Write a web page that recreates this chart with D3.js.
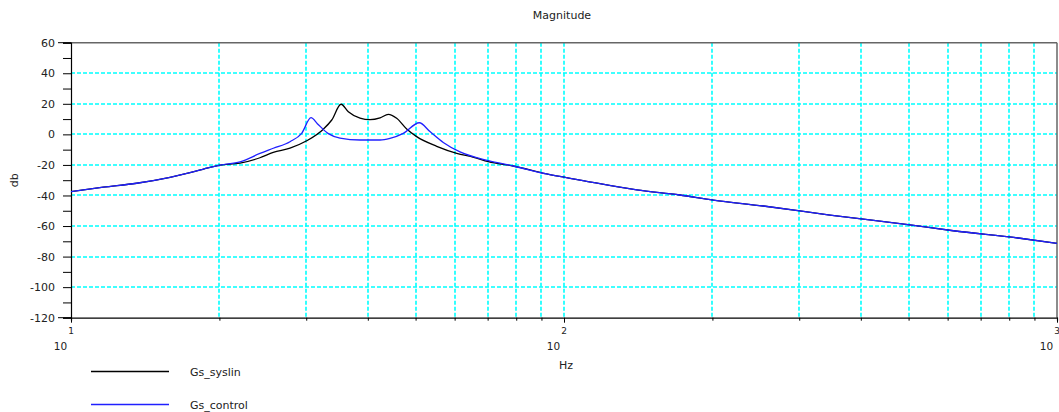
<!DOCTYPE html>
<html>
<head>
<meta charset="utf-8">
<script src="https://cdn.jsdelivr.net/npm/d3@7"></script>
<style>
	body { margin: 0; background: #fff; }
	text { font-family: "DejaVu Sans", Verdana, sans-serif; fill: #222; }
</style>
</head>
<body>
<svg id="container" width="1059" height="412"></svg>
<script>
// frequencies (Hz) and magnitudes (dB)
var freqSyslin = [10, 11.63, 13.59, 15.88, 17.43, 19.14, 20.05, 22.02, 24.17, 25.72, 27.81, 30.07, 32.5, 33.8, 35.3, 36.52, 38.57, 40.42, 42.36, 44.02, 45.77, 47.96, 50.25, 55.19, 60.6, 65.6, 70.23, 78.9, 92.2, 107.8, 140.5, 171.7, 200.9, 253.7, 346.4, 503.3, 616.2, 841.4, 1000];
var dbSyslin = [-37.5, -34.6, -32.0, -28.1, -25.1, -21.6, -20.1, -18.8, -15.3, -11.8, -9.0, -4.2, 3.4, 9.4, 19.7, 14.8, 10.6, 9.6, 10.8, 13.1, 10.5, 3.5, -1.5, -7.8, -12.4, -15.0, -17.9, -20.7, -25.9, -29.9, -36.4, -39.7, -43.0, -46.9, -52.8, -59.3, -63.1, -68.0, -71.3];

var freqControl = [10, 11.63, 13.59, 15.88, 17.43, 19.14, 20.05, 22.02, 24.17, 25.72, 27.81, 29.37, 30.68, 31.6, 33.26, 35.13, 38.57, 42.36, 44.37, 47.21, 50.87, 53.47, 56.9, 61.52, 70.23, 78.9, 92.2, 107.8, 140.5, 171.7, 200.9, 253.7, 346.4, 503.3, 616.2, 841.4, 1000];
var dbControl = [-37.5, -34.6, -32.0, -28.1, -25.1, -21.6, -20.1, -18.0, -12.5, -9.1, -4.8, 0.7, 10.9, 7.0, 0.5, -2.4, -3.7, -3.7, -2.6, 0.7, 7.6, 1.8, -5.3, -11.5, -17.2, -20.7, -25.9, -29.9, -36.4, -39.7, -43.0, -46.9, -52.8, -59.3, -63.1, -68.0, -71.3];

var seriesNames = ["Gs_syslin", "Gs_control"];
var seriesColors = ["#000000", "#2020ff"];

var yTicks = [60, 40, 20, 0, -20, -40, -60, -80, -100, -120];
var decades = [1, 2, 3];

var svg = d3.select("#container");

var x0 = 71, x1 = 1057, y0 = 42.7, y1 = 317.7;

var xScale = d3.scaleLog().domain([10, 1000]).range([x0, x1]);
var yScale = d3.scaleLinear().domain([-120, 60]).range([y1, y0]);

// grid
var gridX = [];
[10, 100].forEach(function (d) {
	for (var k = 2; k <= 9; k++) gridX.push(d * k);
});
gridX.push(100);

svg.append("g")
	.selectAll("line")
	.data(gridX)
	.enter()
	.append("line")
	.attr("x1", d => Math.round(xScale(d)))
	.attr("x2", d => Math.round(xScale(d)))
	.attr("y1", y0)
	.attr("y2", y1)
	.attr("stroke", "#00ffff")
	.attr("stroke-width", 1.6)
	.attr("stroke-dasharray", "4,2");

svg.append("g")
	.selectAll("line")
	.data(yTicks.filter(d => d > -120 && d < 60))
	.enter()
	.append("line")
	.attr("x1", x0)
	.attr("x2", x1)
	.attr("y1", d => Math.round(yScale(d)))
	.attr("y2", d => Math.round(yScale(d)))
	.attr("stroke", "#00ffff")
	.attr("stroke-width", 1.6)
	.attr("stroke-dasharray", "4,2");

// frame
svg.append("line").attr("x1", x0).attr("x2", x1).attr("y1", y0).attr("y2", y0)
	.attr("stroke", "#666").attr("stroke-width", 1.5);
svg.append("line").attr("x1", x1).attr("x2", x1).attr("y1", y0).attr("y2", y1)
	.attr("stroke", "#666").attr("stroke-width", 1.5);

// y axis
var yAxis = d3.axisLeft(yScale)
	.tickValues(d3.range(-120, 61, 10))
	.tickSize(8)
	.tickFormat(d => yTicks.indexOf(d) >= 0 ? d : "");

var gY = svg.append("g")
	.attr("transform", "translate(" + x0 + ",0)")
	.call(yAxis);
gY.select(".domain").attr("stroke", "#000").attr("stroke-width", 1.2);
gY.selectAll(".tick line").attr("stroke", "#000");
gY.selectAll(".tick text")
	.attr("x", -16)
	.style("font-size", "11px")
	.style("font-family", "DejaVu Sans, Verdana, sans-serif")
	.attr("fill", "#222");

// longer lines at top and bottom of the y axis
svg.append("line").attr("x1", 58).attr("x2", x0).attr("y1", y0).attr("y2", y0).attr("stroke", "#000");
svg.append("line").attr("x1", 58).attr("x2", x0).attr("y1", y1).attr("y2", y1).attr("stroke", "#000");

// x axis
var xTickVals = gridX.concat([10, 1000]);
var xAxis = d3.axisBottom(xScale)
	.tickValues(xTickVals)
	.tickSize(3)
	.tickFormat("");

var gX = svg.append("g")
	.attr("transform", "translate(0," + y1 + ")")
	.call(xAxis);
gX.select(".domain").attr("stroke", "#000").attr("stroke-width", 1.2);
gX.selectAll(".tick line").attr("stroke", "#000")
	.attr("y2", d => (d === 10 || d === 100 || d === 1000) ? 5 : 3);

// decade labels 10^k
var labels = svg.append("g");
decades.forEach(function (k) {
	var px = xScale(Math.pow(10, k));
	labels.append("text")
		.attr("x", px)
		.attr("y", 334)
		.attr("text-anchor", "middle")
		.style("font-size", "9px")
		.text(k);
	labels.append("text")
		.attr("x", px - 10.5)
		.attr("y", 350)
		.attr("text-anchor", "middle")
		.style("font-size", "10.5px")
		.text("10");
});

// titles
svg.append("text")
	.attr("x", 562)
	.attr("y", 19)
	.attr("text-anchor", "middle")
	.style("font-size", "11px")
	.text("Magnitude");

svg.append("text")
	.attr("x", 566)
	.attr("y", 369)
	.attr("text-anchor", "middle")
	.style("font-size", "11px")
	.text("Hz");

svg.append("text")
	.attr("transform", "translate(18," + ((y0 + y1) / 2) + ") rotate(-90)")
	.attr("text-anchor", "middle")
	.style("font-size", "11px")
	.text("db");

// curves
var line = d3.line()
	.curve(d3.curveMonotoneX)
	.x(d => xScale(d[0]))
	.y(d => yScale(d[1]));

var series = [
	d3.zip(freqSyslin, dbSyslin),
	d3.zip(freqControl, dbControl)
];

svg.append("g")
	.selectAll("path")
	.data(series)
	.enter()
	.append("path")
	.attr("d", line)
	.attr("fill", "none")
	.attr("stroke", (d, i) => seriesColors[i])
	.attr("stroke-width", 1.3)
	.attr("stroke-linejoin", "round");

// legend
var legend = svg.append("g")
	.selectAll("g")
	.data(seriesNames)
	.enter()
	.append("g")
	.attr("transform", (d, i) => "translate(0," + (371.5 + i * 33) + ")");

legend.append("line")
	.attr("x1", 91)
	.attr("x2", 169)
	.attr("stroke", (d, i) => seriesColors[i])
	.attr("stroke-width", 1.3);

legend.append("text")
	.attr("x", 190)
	.attr("y", 4)
	.style("font-size", "11px")
	.text(d => d);
</script>
</body>
</html>
